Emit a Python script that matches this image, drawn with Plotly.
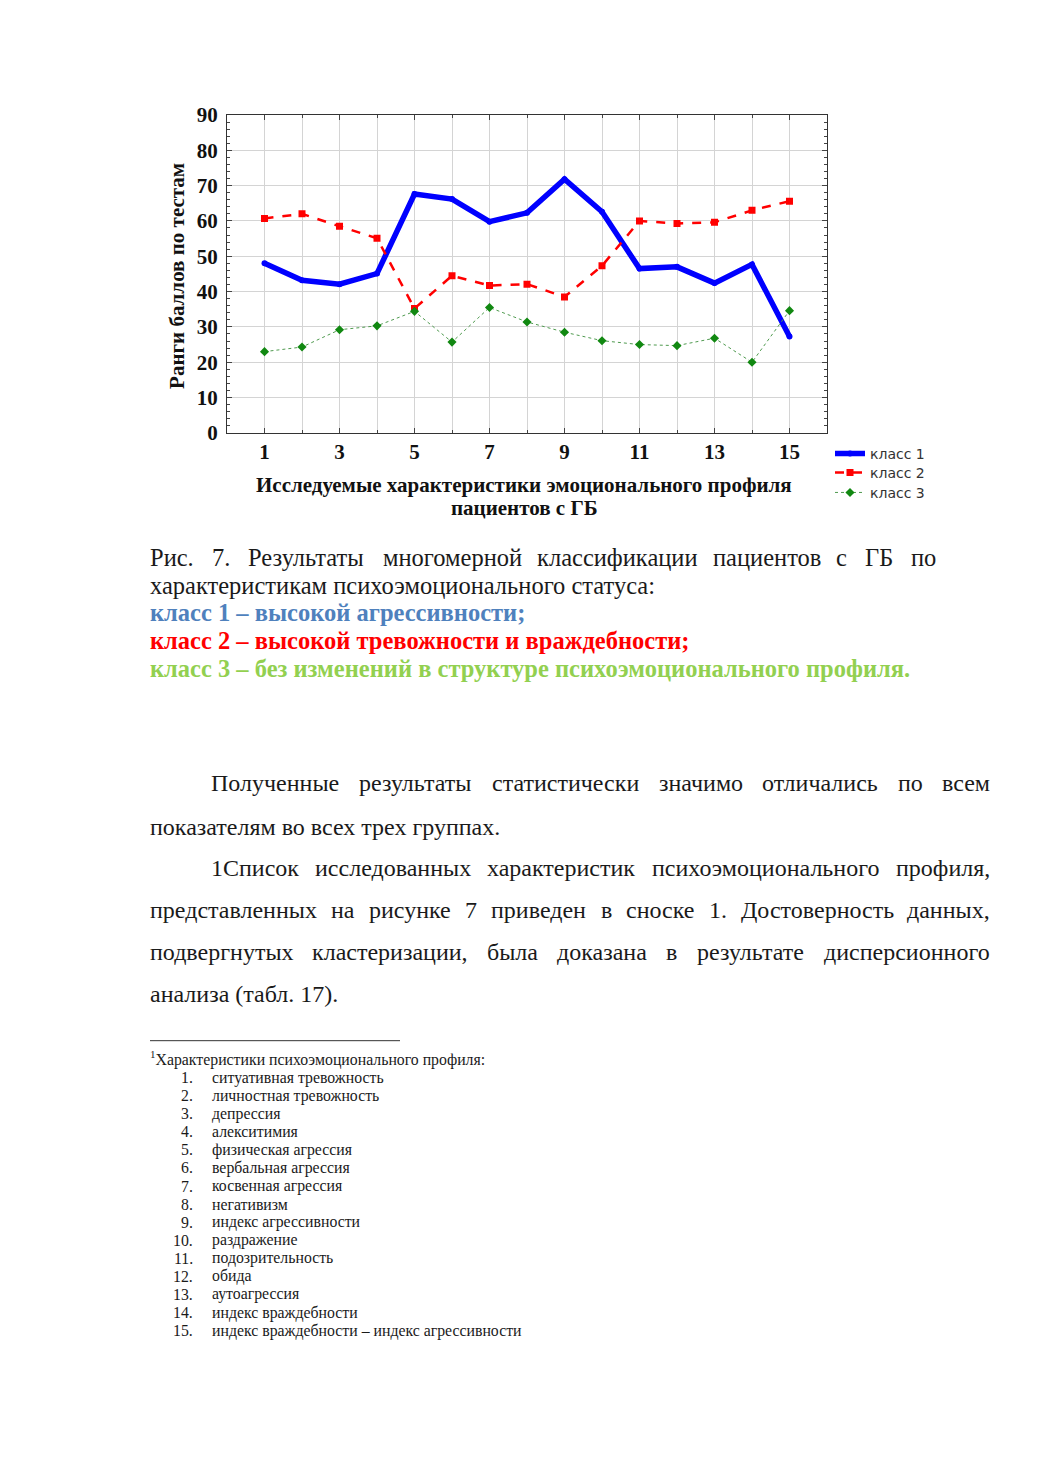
import plotly.graph_objects as go

W, H = 1041, 1472

# ---------------- data ----------------
x_vals = list(range(1, 16))
class1 = [48.0, 43.2, 42.1, 45.1, 67.6, 66.2, 59.8, 62.3, 71.8, 62.6, 46.5, 47.0, 42.4, 47.7, 27.3]
class2 = [60.7, 62.0, 58.5, 55.1, 35.2, 44.5, 41.7, 42.1, 38.5, 47.3, 60.0, 59.3, 59.6, 63.0, 65.6]
class3 = [23.0, 24.3, 29.2, 30.3, 34.4, 25.7, 35.5, 31.4, 28.5, 26.1, 25.0, 24.7, 26.8, 20.0, 34.6]
series_names = ["класс 1", "класс 2", "класс 3"]
x_tickvals = [1, 3, 5, 7, 9, 11, 13, 15]
y_tickvals = [0, 10, 20, 30, 40, 50, 60, 70, 80, 90]

y_title = "Ранги баллов по тестам"
x_title_lines = ["Исследуемые характеристики эмоционального профиля", "пациентов с ГБ"]

caption_line1 = "Рис. 7. Результаты многомерной классификации пациентов с ГБ по"
caption_line2 = "характеристикам психоэмоционального статуса:"
class_lines = [
    ("класс 1 – высокой агрессивности;", "#4F81BD"),
    ("класс 2 – высокой тревожности и враждебности;", "#FF0000"),
    ("класс 3 – без изменений в структуре психоэмоционального профиля.", "#92D050"),
]
body_lines = [
    ("Полученные результаты статистически значимо отличались по всем", 211, 990, True),
    ("показателям во всех трех группах.", 150, None, False),
    ("1Список исследованных характеристик психоэмоционального профиля,", 211, 990, True),
    ("представленных на рисунке 7 приведен в сноске 1. Достоверность данных,", 150, 990, True),
    ("подвергнутых кластеризации, была доказана в результате дисперсионного", 150, 990, True),
    ("анализа (табл. 17).", 150, None, False),
]
footnote_head = "<sup>1</sup>Характеристики психоэмоционального профиля:"
footnote_items = [
    "ситуативная тревожность", "личностная тревожность", "депрессия", "алекситимия",
    "физическая агрессия", "вербальная агрессия", "косвенная агрессия", "негативизм",
    "индекс агрессивности", "раздражение", "подозрительность", "обида",
    "аутоагрессия", "индекс враждебности", "индекс враждебности – индекс агрессивности",
]

SERIF = "Liberation Serif, Times New Roman, serif"
SANS = "DejaVu Sans, Verdana, sans-serif"


def px(x):
    return x / W


# vertical page mapping (target pixel on the photographed page -> paper fraction)
def py(y):
    return 1 - ((y - 12) / 0.984) / H


# approximate Times glyph widths (em)
CW = {}
for ch, w in zip("абвгдеёжзийклмнопрстуфхцчшщъыьэюя",
                 [.444, .5, .47, .41, .5, .444, .444, .69, .39, .53, .53, .48, .5, .62, .53, .5, .53,
                  .5, .444, .44, .5, .65, .5, .53, .5, .77, .77, .5, .67, .46, .44, .72, .47]):
    CW[ch] = w
for ch in "0123456789":
    CW[ch] = .5
CW.update({".": .25, ",": .25, ":": .278, ";": .278, "(": .333, ")": .333, "–": .5, " ": .25})


def tw(s, size, bold=False):
    t = 0
    for ch in s:
        if ch in CW:
            t += CW[ch]
        elif ch.isupper():
            t += .68
        else:
            t += .5
    return t * size * (1.07 if bold else 1.0)


annotations = []


def ann(text, x, y, size, color="#1a1a1a", xanchor="left", bold=False, family=SERIF, angle=0):
    if bold:
        text = "<b>" + text + "</b>"
    annotations.append(dict(
        text=text, x=px(x), y=py(y), xref="paper", yref="paper",
        xanchor=xanchor, yanchor="middle", showarrow=False, textangle=angle,
        font=dict(family=family, size=size, color=color), borderpad=0, borderwidth=0,
    ))


def justified(line, x0, x1, y, size, color="#1a1a1a", bold=False):
    words = line.split(" ")
    widths = [tw(w, size, bold) for w in words]
    gap = (x1 - x0 - sum(widths)) / (len(words) - 1)
    x = x0
    for i, (w, wd) in enumerate(zip(words, widths)):
        if i == 0:
            ann(w, x0, y, size, color, "left", bold)
        elif i == len(words) - 1:
            ann(w, x1, y, size, color, "right", bold)
        else:
            ann(w, x + wd / 2, y, size, color, "center", bold)
        x += wd + gap


# ---------------- figure ----------------
fig = go.Figure()
fig.add_trace(go.Scatter(
    x=x_vals, y=class1, name=series_names[0], mode="lines+markers", legend="legend",
    line=dict(color="#0000FF", width=5.5), marker=dict(symbol="circle", size=6, color="#0000FF"),
))
fig.add_trace(go.Scatter(
    x=x_vals, y=class2, name=series_names[1], mode="lines+markers", legend="legend2",
    line=dict(color="#FF0000", width=2.5, dash="dash"),
    marker=dict(symbol="square", size=7, color="#FF0000"),
))
fig.add_trace(go.Scatter(
    x=x_vals, y=class3, name=series_names[2], mode="lines+markers", legend="legend3",
    line=dict(color="#4f9a4f", width=1, dash="dot"),
    marker=dict(symbol="diamond", size=7, color="#118811"),
))

# axis titles
ann(y_title, 177, 276, 21, "#111111", "center", True, angle=-90)
ann(x_title_lines[0], 524, 485, 21, "#111111", "center", True)
ann(x_title_lines[1], 524, 508, 21, "#111111", "center", True)

# caption
justified(caption_line1, 150, 936, 558, 24.5)
ann(caption_line2, 150, 586, 24.5)
for i, (t, c) in enumerate(class_lines):
    ann(t, 150, 613 + i * 28, 24.5, c, "left", True)

# body text
body_y = [783, 827, 868, 910, 952, 994]
for (t, x0, x1, just), yy in zip(body_lines, body_y):
    if just:
        justified(t, x0, x1, yy, 24)
    else:
        ann(t, x0, yy, 24)

# footnote
ann(footnote_head, 150, 1059, 15.8)
for i, item in enumerate(footnote_items):
    yy = 1078 + i * 18.07
    ann(f"{i + 1}.", 193, yy, 15.8, "#1a1a1a", "right")
    ann(item, 212, yy, 15.8)


def legend_box(yc):
    return dict(x=px(830), y=py(yc), xanchor="left", yanchor="middle",
                font=dict(family=SANS, size=14, color="#333333"),
                bgcolor="rgba(0,0,0,0)", itemwidth=30, borderwidth=0)


fig.update_layout(
    width=W, height=H,
    margin=dict(l=0, r=0, t=0, b=0),
    paper_bgcolor="white", plot_bgcolor="white",
    showlegend=True,
    legend=legend_box(454),
    legend2=legend_box(473),
    legend3=legend_box(493),
    annotations=annotations,
    shapes=[dict(type="line", xref="paper", yref="paper", x0=px(150), x1=px(400),
                 y0=py(1041), y1=py(1041), line=dict(color="#333333", width=1))],
)

fig.update_xaxes(
    domain=[px(227), px(827)], range=[0, 16],
    tickvals=x_tickvals, ticktext=[f"<b>{v}</b>" for v in x_tickvals],
    tickfont=dict(family=SERIF, size=21, color="#111111"),
    showgrid=True, gridcolor="#d4d4d4", gridwidth=1,
    minor=dict(dtick=1, tick0=0, showgrid=True, gridcolor="#d4d4d4", ticks="inside", ticklen=3,
               tickcolor="#444444"),
    ticks="inside", ticklen=5, tickcolor="#444444",
    showline=True, linecolor="#333333", linewidth=1, mirror="ticks",
    zeroline=False, ticklabelstandoff=0,
)
fig.update_yaxes(
    domain=[py(433), py(115)], range=[0, 90],
    tickvals=y_tickvals, ticktext=[f"<b>{v}</b>" for v in y_tickvals],
    tickfont=dict(family=SERIF, size=21, color="#111111"),
    showgrid=True, gridcolor="#d4d4d4", gridwidth=1,
    minor=dict(dtick=2, ticks="inside", ticklen=3, tickcolor="#444444", showgrid=False),
    ticks="inside", ticklen=5, tickcolor="#444444",
    showline=True, linecolor="#333333", linewidth=1, mirror="ticks",
    zeroline=False, ticklabelstandoff=4,
)

fig.write_html("out.html", config={"displayModeBar": False},
               post_script="document.body.style.margin='0';document.body.style.overflow='hidden';")
